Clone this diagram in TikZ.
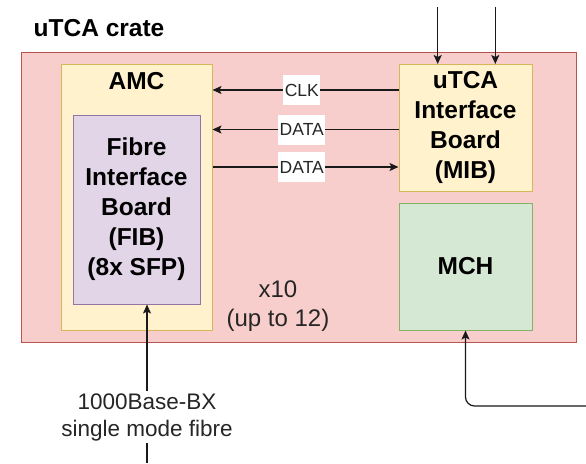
\documentclass[tikz,border=0pt]{standalone}
\usepackage{fontspec}
\setmainfont{Liberation Sans}
\usetikzlibrary{arrows.meta}
\definecolor{redfill}{HTML}{F8CECC}
\definecolor{redline}{HTML}{B85450}
\definecolor{yelfill}{HTML}{FFF2CC}
\definecolor{yelline}{HTML}{D6B656}
\definecolor{purfill}{HTML}{E1D5E7}
\definecolor{purline}{HTML}{9673A6}
\definecolor{grnfill}{HTML}{D5E8D4}
\definecolor{grnline}{HTML}{82B366}
\begin{document}
\begin{tikzpicture}[x=1pt,y=-1pt,
  box/.style={draw, line width=1pt, rectangle, inner sep=0pt},
  boldtxt/.style={font=\fontsize{24.5}{30}\selectfont\bfseries, align=center, text=black},
  plain/.style={font=\fontsize{22.5}{27}\selectfont, align=center, text=black!85},
  lbl/.style={fill=white, font=\fontsize{17.5}{20}\selectfont, text=black!85, inner sep=1.5pt, minimum height=30pt},
  arr/.style={line width=1.2pt, black!90, -{Stealth[length=9pt,width=8pt,inset=2pt]}}]
\useasboundingbox (0,0) rectangle (586,463);
% boxes
\node[box, fill=redfill, draw=redline, minimum width=555pt, minimum height=290pt] (crate) at (298.5,197) {};
\node[boldtxt] (cratetext) at (99,28) {uTCA crate};
\node[box, fill=yelfill, draw=yelline, minimum width=151pt, minimum height=265.3pt] (amc) at (136.5,197.35) {};
\node[boldtxt] (amctext) at (136.5,81) {AMC};
\node[box, fill=purfill, draw=purline, minimum width=127pt, minimum height=189pt, boldtxt] (fib) at (136.5,209.5) {Fibre\\Interface\\Board\\(FIB)\\(8x SFP)};
\node[box, fill=yelfill, draw=yelline, minimum width=133pt, minimum height=126.5pt, boldtxt] (mib) at (465.5,127.75) {uTCA\\Interface\\Board\\(MIB)};
\node[box, fill=grnfill, draw=grnline, minimum width=133pt, minimum height=127pt, boldtxt] (mch) at (465.5,266.5) {MCH};
\node[plain, font=\fontsize{24}{29}\selectfont] (xten) at (278,306) {x10\\(up to 12)};
% coordinates
\coordinate (yclk) at (0,90);
\coordinate (yd1) at (0,129.5);
\coordinate (yd2) at (0,167);
\coordinate (t1) at (437.7,7);
\coordinate (t2) at (495.3,7);
\coordinate (m1) at (586,406);
\coordinate (f1) at (147,463);
% connectors
\draw[arr] (mib.west |- yclk) -- (amc.east |- yclk) node[lbl, pos=0.52] (clk) {CLK};
\draw[arr] (mib.west |- yd1) -- (amc.east |- yd1) node[lbl, pos=0.52] (data1) {DATA};
\draw[arr] (amc.east |- yd2) -- (mib.west |- yd2) node[lbl, pos=0.48] (data2) {DATA};
\draw[arr] (t1) -- (t1 |- mib.north);
\draw[arr] (t2) -- (t2 |- mib.north);
\draw[arr, rounded corners=9pt] (m1) -- (m1 -| mch.south) -- (mch.south);
\draw[arr] (f1) -- (f1 |- fib.south) node[plain, fill=white, pos=0.29, inner sep=2pt] (fibre) {1000Base-BX\\single mode fibre};
\end{tikzpicture}
\end{document}
